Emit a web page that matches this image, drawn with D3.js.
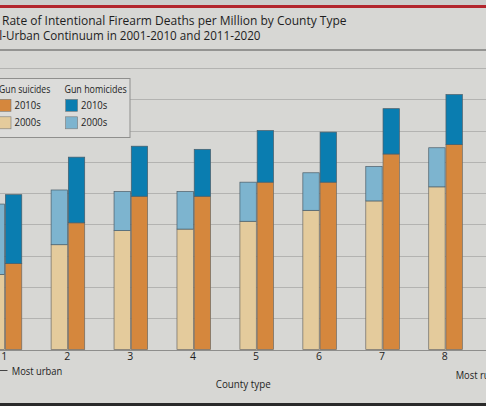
<!DOCTYPE html>
<html>
<head>
<meta charset="utf-8">
<script src="https://cdn.jsdelivr.net/npm/d3@7"></script>
<style>
  html, body { margin: 0; padding: 0; background: #d6d6d3; }
  svg { display: block; }
  text { font-family: "Open Sans", Lato, sans-serif; fill: #1e1e1e; }
</style>
</head>
<body>
<svg id="chart" width="486" height="406"></svg>
<script>
// ---- data (rates per million) ----
const countyTypes = ["1", "2", "3", "4", "5", "6", "7", "8"];
const periods = ["2000s", "2010s"];
const suicides2000s = [48, 67, 76, 77, 82, 89, 95, 104];
const homicides2000s = [45, 35, 25, 24, 25, 24, 22, 25];
const suicides2010s = [55, 81, 98, 98, 107, 107, 125, 131];
const homicides2010s = [44, 42, 32, 30, 33, 32, 29, 32];
const yTicks = [0, 20, 40, 60, 80, 100, 120, 140, 160, 180];
const titleLines = [
  "Figure. Total Rate of Intentional Firearm Deaths per Million by County Type",
  "Across the Rural-Urban Continuum in 2001-2010 and 2011-2020"
];

const colors = {
  suicide2010s: "#d5873d",
  suicide2000s: "#e4cb9c",
  homicide2010s: "#0a7db0",
  homicide2000s: "#7db4cf"
};

const svg = d3.select("#chart");
const W = 486, H = 406;

// helper: measure natural text width
function measure(str, size) {
  const t = svg.append("text").attr("font-size", size).style("white-space", "pre").text(str);
  const w = t.node().getComputedTextLength();
  t.remove();
  return w;
}
// helper: draw text horizontally condensed so that the trailing part `tail` spans [x0,x1]
function condensedText(parent, str, tail, x0, x1, y, size) {
  const s = (x1 - x0) / measure(tail, size);
  return parent.append("text")
    .attr("transform", `translate(${x1},${y}) scale(${s},1)`)
    .attr("text-anchor", "end")
    .attr("font-size", size)
    .text(str);
}

// backgrounds
svg.append("rect").attr("x", 0).attr("y", 0).attr("width", W).attr("height", H).attr("fill", "#d7d7d4");
svg.append("rect").attr("x", 0).attr("y", 0).attr("width", W).attr("height", 6).attr("fill", "#cdcdcb");
svg.append("rect").attr("x", 0).attr("y", 5).attr("width", W).attr("height", 3).attr("fill", "#b3262d");
svg.append("line").attr("x1", 0).attr("x2", W).attr("y1", 50).attr("y2", 50)
  .attr("stroke", "#7e7e7c").attr("stroke-width", 1.5);
svg.append("rect").attr("x", 0).attr("y", 403).attr("width", W).attr("height", 3).attr("fill", "#2a2a2a");

// title
condensedText(svg, titleLines[0], "Intentional Firearm Deaths per Million by County Type", 44.3, 346.5, 25, 13.5);
condensedText(svg, titleLines[1], "Urban Continuum in 2001-2010 and 2011-2020", 5.7, 260.5, 40, 13.5);

// scales
const x0 = d3.scaleBand().domain(countyTypes).range([-26.5, 477]).padding(0);
const x1 = d3.scaleBand().domain(periods)
  .range([x0.bandwidth() / 2 - 16.8, x0.bandwidth() / 2 + 16.8]).paddingInner(0.05);
const y = d3.scaleLinear().domain([0, 180]).range([349.5, 68]);

// gridlines
const g = svg.append("g");
g.selectAll("line.grid").data(yTicks).join("line")
  .attr("class", "grid")
  .attr("x1", 0).attr("x2", W)
  .attr("y1", d => Math.round(y(d)) + 0.5).attr("y2", d => Math.round(y(d)) + 0.5)
  .attr("stroke", d => d === 0 ? "#8e8e8c" : "#b3b3b1")
  .attr("stroke-width", 1);

// bars
const rows = countyTypes.map((c, i) => ({
  c,
  "2000s": { s: suicides2000s[i], h: homicides2000s[i] },
  "2010s": { s: suicides2010s[i], h: homicides2010s[i] }
}));

const groups = g.selectAll("g.county").data(rows).join("g")
  .attr("transform", d => `translate(${x0(d.c)},0)`);

periods.forEach(p => {
  groups.append("rect")
    .attr("x", x1(p)).attr("width", x1.bandwidth())
    .attr("y", d => y(d[p].s)).attr("height", d => y(0) - y(d[p].s))
    .attr("fill", colors["suicide" + p])
    .attr("stroke", "#6d6a64").attr("stroke-width", 0.7);
  groups.append("rect")
    .attr("x", x1(p)).attr("width", x1.bandwidth())
    .attr("y", d => y(d[p].s + d[p].h)).attr("height", d => y(d[p].s) - y(d[p].s + d[p].h))
    .attr("fill", colors["homicide" + p])
    .attr("stroke", "#4a5d68").attr("stroke-width", 0.7);
});

// x axis labels
const xAxis = d3.axisBottom(x0).tickSize(0).tickPadding(3);
const ax = svg.append("g").attr("transform", `translate(-0.7,${y(0)})`).call(xAxis);
ax.select(".domain").remove();
ax.selectAll("text").attr("font-size", 10.5).attr("font-family", "'Open Sans', Lato, sans-serif").attr("fill", "#1e1e1e");

svg.append("line").attr("x1", 0).attr("x2", 7.5).attr("y1", 370.5).attr("y2", 370.5)
  .attr("stroke", "#444").attr("stroke-width", 1);
condensedText(svg, "Most urban", "Most urban", 11.7, 62.3, 374.5, 10.5);
const muScale = (62.3 - 11.7) / measure("Most urban", 10.5);
svg.append("text").attr("transform", `translate(455.7,379) scale(${muScale},1)`)
  .attr("font-size", 10.5).text("Most rural");
const ctW = measure("County type", 11.5);
svg.append("text").attr("transform", `translate(243.2,388) scale(${55 / ctW},1)`)
  .attr("text-anchor", "middle").attr("font-size", 11.5).text("County type");

// legend
const lg = svg.append("g");
lg.append("rect").attr("x", -10).attr("y", 78.5).attr("width", 140).attr("height", 59)
  .attr("fill", "#dcdcda").attr("stroke", "#8f8f8d").attr("stroke-width", 1);
const legendCols = [
  { title: "Gun suicides", tx0: -1, tx1: 50.3, x: -1, items: [["2010s", colors.suicide2010s], ["2000s", colors.suicide2000s]] },
  { title: "Gun homicides", tx0: 64.3, tx1: 126.7, x: 65.6, items: [["2010s", colors.homicide2010s], ["2000s", colors.homicide2000s]] }
];
const itemY = [{ sw: 99.3, base: 108.7 }, { sw: 116.8, base: 126 }];
legendCols.forEach(col => {
  condensedText(lg, col.title, col.title, col.tx0, col.tx1, 92.7, 11);
  col.items.forEach((it, j) => {
    lg.append("rect").attr("x", col.x).attr("y", itemY[j].sw).attr("width", 12).attr("height", 12)
      .attr("fill", it[1]).attr("stroke", "#7a7a78").attr("stroke-width", 0.6);
    condensedText(lg, it[0], it[0], col.x + 15.4, col.x + 41.7, itemY[j].base, 10.5);
  });
});
</script>
</body>
</html>
